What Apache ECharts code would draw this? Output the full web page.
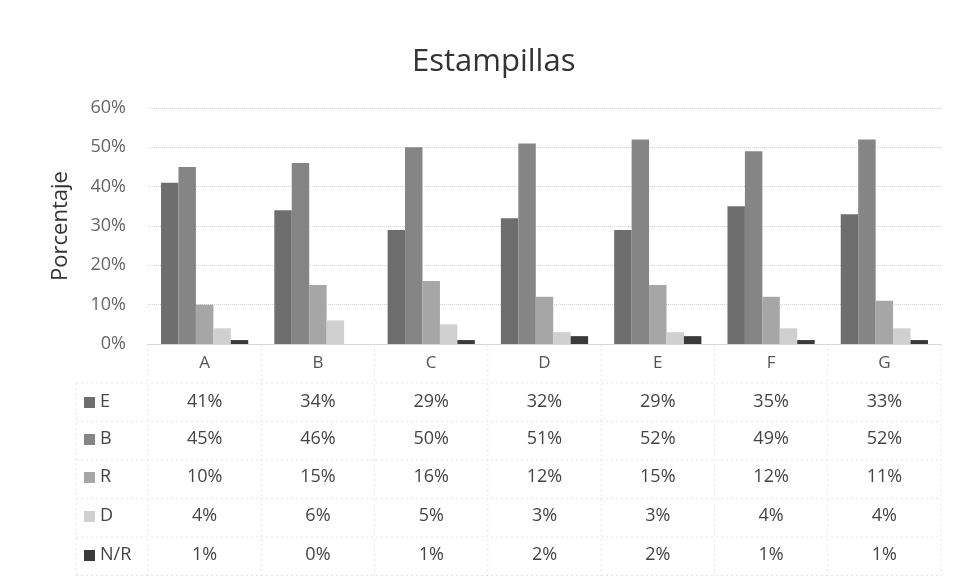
<!DOCTYPE html>
<html>
<head>
<meta charset="utf-8">
<script src="https://cdn.jsdelivr.net/npm/echarts@6/dist/echarts.min.js"></script>
<style>
html,body{margin:0;padding:0;background:#fff;}
#chart{width:953px;height:586px;}
</style>
</head>
<body>
<div id="chart"></div>
<script>
var categories = ['A','B','C','D','E','F','G'];
var seriesNames = ['E','B','R','D','N/R'];
var valuesE  = [41,34,29,32,29,35,33];
var valuesB  = [45,46,50,51,52,49,52];
var valuesR  = [10,15,16,12,15,12,11];
var valuesD  = [4,6,5,3,3,4,4];
var valuesNR = [1,0,1,2,2,1,1];
var allValues = [valuesE, valuesB, valuesR, valuesD, valuesNR];
var colors = ['#6e6e6e','#858585','#a6a6a6','#d0d0d0','#3a3a3a'];

var FONT = 'Open Sans, Liberation Sans, sans-serif';
var chart = echarts.init(document.getElementById('chart'));

var series = seriesNames.map(function(n,i){
  return {
    name:n, type:'bar', data: allValues[i],
    barGap:'0%', barCategoryGap:'23%',
    itemStyle:{color:colors[i]},
    animation:false
  };
});

chart.setOption({
  animation:false,
  backgroundColor:'#fff',
  title:{
    text:'Estampillas', left:407, top:42,
    textStyle:{fontFamily:FONT, fontSize:31, fontWeight:'normal', color:'#333'}
  },
  grid:{left:148, right:12, top:108, bottom:242, containLabel:false},
  xAxis:{
    type:'category', data:categories,
    axisLine:{show:true, lineStyle:{color:'#d8d8d8'}},
    axisTick:{show:false},
    axisLabel:{fontFamily:FONT, fontSize:17, color:'#555', margin:11}
  },
  yAxis:{
    type:'value', min:0, max:60, interval:10,
    name:'Porcentaje', nameLocation:'middle', nameGap:76, nameRotate:90,
    nameTextStyle:{fontFamily:FONT, fontSize:22, color:'#333'},
    axisLine:{show:false}, axisTick:{show:false},
    axisLabel:{formatter:'{value}%', fontFamily:FONT, fontSize:18, color:'#666', margin:22},
    splitLine:{lineStyle:{color:'#d4d4d4', type:'dotted'}}
  },
  series: series
});

// Data table below the plot, built from the same arrays
var graphics = [];
var rowY = [402, 439, 477, 516, 555];
var rowH = 38.5;
var tableTop = 383;
var x0 = chart.convertToPixel({xAxisIndex:0}, 0);
var x1 = chart.convertToPixel({xAxisIndex:0}, 1);
var colW = x1 - x0;
var leftEdge = x0 - colW/2;
var rightEdge = leftEdge + colW*categories.length;
var lineStyle = {stroke:'#e4e4e4', lineWidth:1, lineDash:[2,3]};

for (var r = 0; r <= seriesNames.length; r++) {
  var y = tableTop + r*rowH;
  graphics.push({type:'line', silent:true, shape:{x1:76, y1:y, x2:rightEdge, y2:y}, style:lineStyle});
}
graphics.push({type:'line', silent:true, shape:{x1:76, y1:tableTop, x2:76, y2:tableTop+rowH*5}, style:lineStyle});
for (var c = 0; c <= categories.length; c++) {
  var xx = leftEdge + c*colW;
  graphics.push({type:'line', silent:true, shape:{x1:xx, y1:344, x2:xx, y2:tableTop+rowH*5}, style:lineStyle});
}

seriesNames.forEach(function(n, i){
  graphics.push({type:'rect', silent:true, shape:{x:84, y:rowY[i]-5, width:11, height:11}, style:{fill:colors[i]}});
  graphics.push({type:'text', silent:true, x:100, y:rowY[i], style:{text:n, font:'18px ' + FONT, fill:'#444', textVerticalAlign:'middle', textAlign:'left'}});
  allValues[i].forEach(function(v, j){
    var cx = chart.convertToPixel({xAxisIndex:0}, j);
    graphics.push({type:'text', silent:true, x:cx, y:rowY[i], style:{text:v + '%', font:'18px ' + FONT, fill:'#444', textAlign:'center', textVerticalAlign:'middle'}});
  });
});

chart.setOption({graphic:graphics});
</script>
</body>
</html>
